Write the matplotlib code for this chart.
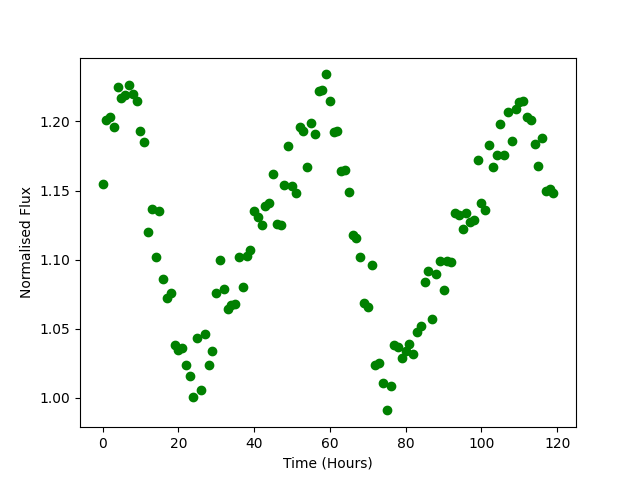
import numpy as np
import matplotlib
matplotlib.use('Agg')
import matplotlib.pyplot as plt

# hourly samples, t = 0 .. 119
time_hours = np.arange(120)

flux = [1.155, 1.201, 1.203, 1.196, 1.225, 1.217, 1.219, 1.226, 1.220, 1.215,
        1.193, 1.185, 1.120, 1.137, 1.102, 1.135, 1.086, 1.072, 1.076, 1.038,
        1.035, 1.036, 1.024, 1.016, 1.001, 1.043, 1.006, 1.046, 1.024, 1.034,
        1.076, 1.100, 1.079, 1.064, 1.067, 1.068, 1.102, 1.080, 1.103, 1.107,
        1.135, 1.131, 1.125, 1.139, 1.141, 1.162, 1.126, 1.125, 1.154, 1.182,
        1.153, 1.148, 1.196, 1.193, 1.167, 1.199, 1.191, 1.222, 1.223, 1.234,
        1.215, 1.192, 1.193, 1.164, 1.165, 1.149, 1.118, 1.116, 1.102, 1.069,
        1.066, 1.096, 1.024, 1.025, 1.011, 0.991, 1.009, 1.038, 1.037, 1.029,
        1.034, 1.039, 1.032, 1.048, 1.052, 1.084, 1.092, 1.057, 1.090, 1.099,
        1.078, 1.099, 1.098, 1.134, 1.132, 1.122, 1.134, 1.127, 1.129, 1.172,
        1.141, 1.136, 1.183, 1.167, 1.176, 1.198, 1.176, 1.207, 1.186, 1.209,
        1.214, 1.215, 1.203, 1.201, 1.184, 1.168, 1.188, 1.150, 1.151, 1.148]

plt.figure(figsize=(6.4, 4.8), dpi=100)
plt.plot(time_hours, flux, 'go')
plt.xlabel('Time (Hours)')
plt.ylabel('Normalised Flux')
plt.savefig('out.png')
